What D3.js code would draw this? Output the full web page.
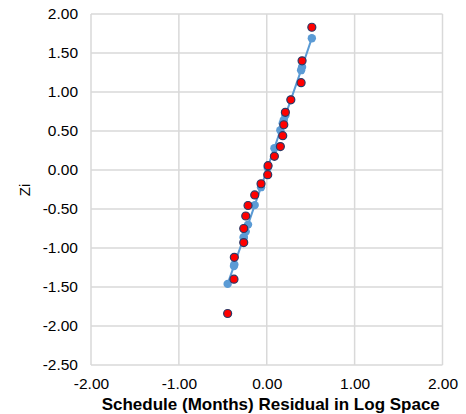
<!DOCTYPE html>
<html>
<head>
<meta charset="utf-8">
<script src="https://cdn.jsdelivr.net/npm/d3@7"></script>
<style>
body { margin: 0; background: #fff; }
text { font-family: "Liberation Sans", Arial, sans-serif; }
</style>
</head>
<body>
<svg id="chart" width="466" height="414"></svg>
<script>
// residuals (x) shared by both series
var residuals = [0.513, 0.402, 0.391, 0.274, 0.212, 0.194, 0.182, 0.155, 0.087, 0.015,
                 0.011, -0.065, -0.137, -0.213, -0.239, -0.262, -0.262, -0.369, -0.373, -0.445];
// observed normal scores (red)
var ziObserved = [1.83, 1.40, 1.12, 0.90, 0.74, 0.58, 0.44, 0.30, 0.175, 0.055,
                  -0.06, -0.176, -0.32, -0.455, -0.59, -0.75, -0.93, -1.12, -1.40, -1.84];
// fitted line values (blue)
var ziFitted = [1.69, 1.32, 1.28, 0.90, 0.70, 0.64, 0.60, 0.51, 0.28, 0.05,
                0.03, -0.22, -0.45, -0.70, -0.79, -0.86, -0.87, -1.21, -1.23, -1.46];

var xTicks = [-2, -1, 0, 1, 2];
var yTicks = [-2.5, -2, -1.5, -1, -0.5, 0, 0.5, 1, 1.5, 2];

var svg = d3.select("#chart");
var mLeft = 91, mRight = 442.5, mTop = 14, mBottom = 365;

var x = d3.scaleLinear().domain([-2, 2]).range([mLeft, mRight]);
var y = d3.scaleLinear().domain([-2.5, 2]).range([mBottom, mTop]);

var fmt = function(d){ return d.toFixed(2); }; // plain hyphen minus like the original

// gridlines
svg.append("g").selectAll("line").data(yTicks).enter().append("line")
	.attr("x1", mLeft).attr("x2", mRight)
	.attr("y1", function(d){ return y(d); }).attr("y2", function(d){ return y(d); })
	.attr("stroke", "#d9d9d9").attr("stroke-width", 1.5);
svg.append("g").selectAll("line").data(xTicks).enter().append("line")
	.attr("y1", mTop).attr("y2", mBottom)
	.attr("x1", function(d){ return x(d); }).attr("x2", function(d){ return x(d); })
	.attr("stroke", "#d9d9d9").attr("stroke-width", 1.5);

// axes (labels only)
var yAxis = svg.append("g").attr("transform", "translate(" + (mLeft - 13) + ",0)")
	.call(d3.axisLeft(y).tickValues(yTicks).tickFormat(fmt).tickSize(0).tickPadding(0));
yAxis.select(".domain").remove();
yAxis.selectAll("text").style("font-size", "15.5px").attr("fill", "#000")
	.attr("font-family", "Liberation Sans, Arial, sans-serif");

var xAxis = svg.append("g").attr("transform", "translate(0," + (mBottom + 13) + ")")
	.call(d3.axisBottom(x).tickValues(xTicks).tickFormat(fmt).tickSize(0).tickPadding(0));
xAxis.select(".domain").remove();
xAxis.selectAll("text").style("font-size", "15.5px").attr("fill", "#000")
	.attr("font-family", "Liberation Sans, Arial, sans-serif");

// axis titles
svg.append("text")
	.attr("x", (mLeft + mRight) / 2 + 4).attr("y", 410)
	.attr("text-anchor", "middle")
	.style("font-size", "17px").style("font-weight", "bold")
	.text("Schedule (Months) Residual in Log Space");

svg.append("text")
	.attr("transform", "translate(30,190) rotate(-90)")
	.attr("text-anchor", "middle")
	.style("font-size", "15px")
	.text("Zi");

// fitted line + markers
var fitted = residuals.map(function(r, i){ return [r, ziFitted[i]]; });
svg.append("path").datum(fitted)
	.attr("fill", "none").attr("stroke", "#5b9bd5").attr("stroke-width", 2)
	.attr("d", d3.line().x(function(d){ return x(d[0]); }).y(function(d){ return y(d[1]); }));
svg.append("g").selectAll("circle").data(fitted).enter().append("circle")
	.attr("cx", function(d){ return x(d[0]); })
	.attr("cy", function(d){ return y(d[1]); })
	.attr("r", 4.2).attr("fill", "#5b9bd5");

// observed markers
var observed = residuals.map(function(r, i){ return [r, ziObserved[i]]; });
svg.append("g").selectAll("circle").data(observed).enter().append("circle")
	.attr("cx", function(d){ return x(d[0]); })
	.attr("cy", function(d){ return y(d[1]); })
	.attr("r", 4).attr("fill", "#ff0000")
	.attr("stroke", "#2b3a67").attr("stroke-width", 1.2);
</script>
</body>
</html>
